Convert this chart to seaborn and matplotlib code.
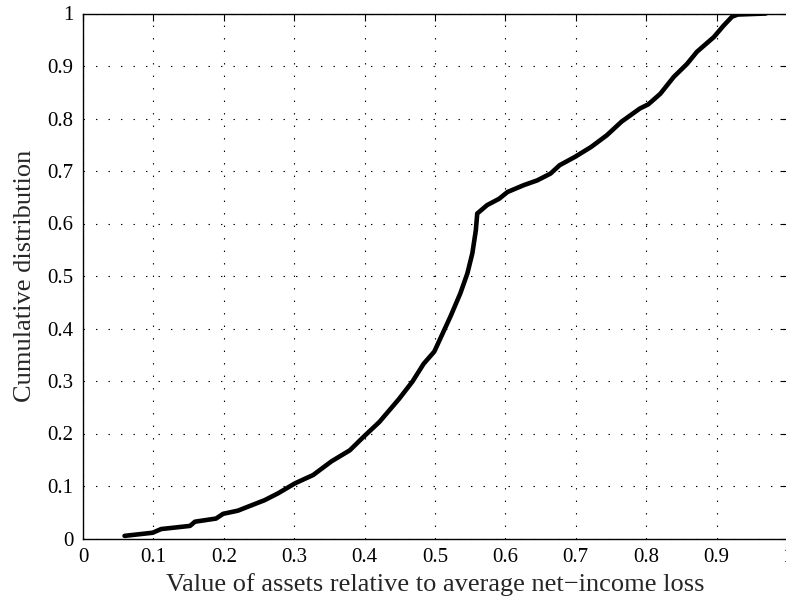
import matplotlib
matplotlib.use("Agg")
import matplotlib.pyplot as plt
import seaborn as sns
import pandas as pd

asset_ratio = [0.059, 0.099, 0.111, 0.152, 0.159, 0.189, 0.199, 0.220, 0.237, 0.258,
               0.277, 0.301, 0.327, 0.353, 0.379, 0.398, 0.421, 0.449, 0.468, 0.484,
               0.499, 0.510, 0.522, 0.536, 0.546, 0.553, 0.558, 0.560, 0.574, 0.591,
               0.603, 0.626, 0.645, 0.664, 0.677, 0.699, 0.722, 0.744, 0.765, 0.791,
               0.803, 0.820, 0.839, 0.858, 0.872, 0.896, 0.910, 0.922, 0.930, 0.970]
cum_dist = [0.005, 0.011, 0.018, 0.024, 0.032, 0.038, 0.047, 0.053, 0.062, 0.073,
            0.086, 0.105, 0.121, 0.147, 0.168, 0.193, 0.222, 0.266, 0.299, 0.333,
            0.356, 0.388, 0.423, 0.467, 0.505, 0.543, 0.587, 0.619, 0.635, 0.647,
            0.660, 0.673, 0.682, 0.695, 0.711, 0.727, 0.746, 0.768, 0.794, 0.819,
            0.827, 0.847, 0.879, 0.904, 0.927, 0.955, 0.977, 0.994, 0.998, 1.000]
x_ticks = [0, 0.1, 0.2, 0.3, 0.4, 0.5, 0.6, 0.7, 0.8, 0.9, 1]
x_tick_labels = ["0", "0.1", "0.2", "0.3", "0.4", "0.5", "0.6", "0.7", "0.8", "0.9", "1"]
y_ticks = [0, 0.1, 0.2, 0.3, 0.4, 0.5, 0.6, 0.7, 0.8, 0.9, 1]
y_tick_labels = ["0", "0.1", "0.2", "0.3", "0.4", "0.5", "0.6", "0.7", "0.8", "0.9", "1"]

sns.set_style("white")
plt.rcParams["font.family"] = ["Liberation Serif", "DejaVu Serif"]
plt.rcParams["lines.scale_dashes"] = False

df = pd.DataFrame({"x": asset_ratio, "y": cum_dist})

fig = plt.figure(figsize=(7.86, 6.03), dpi=100)
ax = fig.add_axes([83 / 786, (603 - 538.5) / 603, 704 / 786, 525 / 603])

sns.lineplot(data=df, x="x", y="y", ax=ax, color="black", linewidth=3.3,
             sort=False, estimator=None)

ax.set_xlim(0, 1)
ax.set_ylim(0, 1)
ax.set_xticks(x_ticks)
ax.set_xticklabels(x_tick_labels)
ax.set_yticks(y_ticks)
ax.set_yticklabels(y_tick_labels)
ax.tick_params(direction="in", length=5, width=0.8, top=True, right=True,
               labelsize=15, colors="black", pad=7)
ax.grid(True, color="black", linestyle=(0, (1, 8)), linewidth=0.8)
for s in ax.spines.values():
    s.set_color("black")
    s.set_linewidth(1.0)
    s.set_visible(True)

ax.set_xlabel("Value of assets relative to average net\u2212income loss", fontsize=19, labelpad=4)
ax.set_ylabel("Cumulative distribution", fontsize=19, labelpad=8)

fig.savefig("out.png", dpi=100)
